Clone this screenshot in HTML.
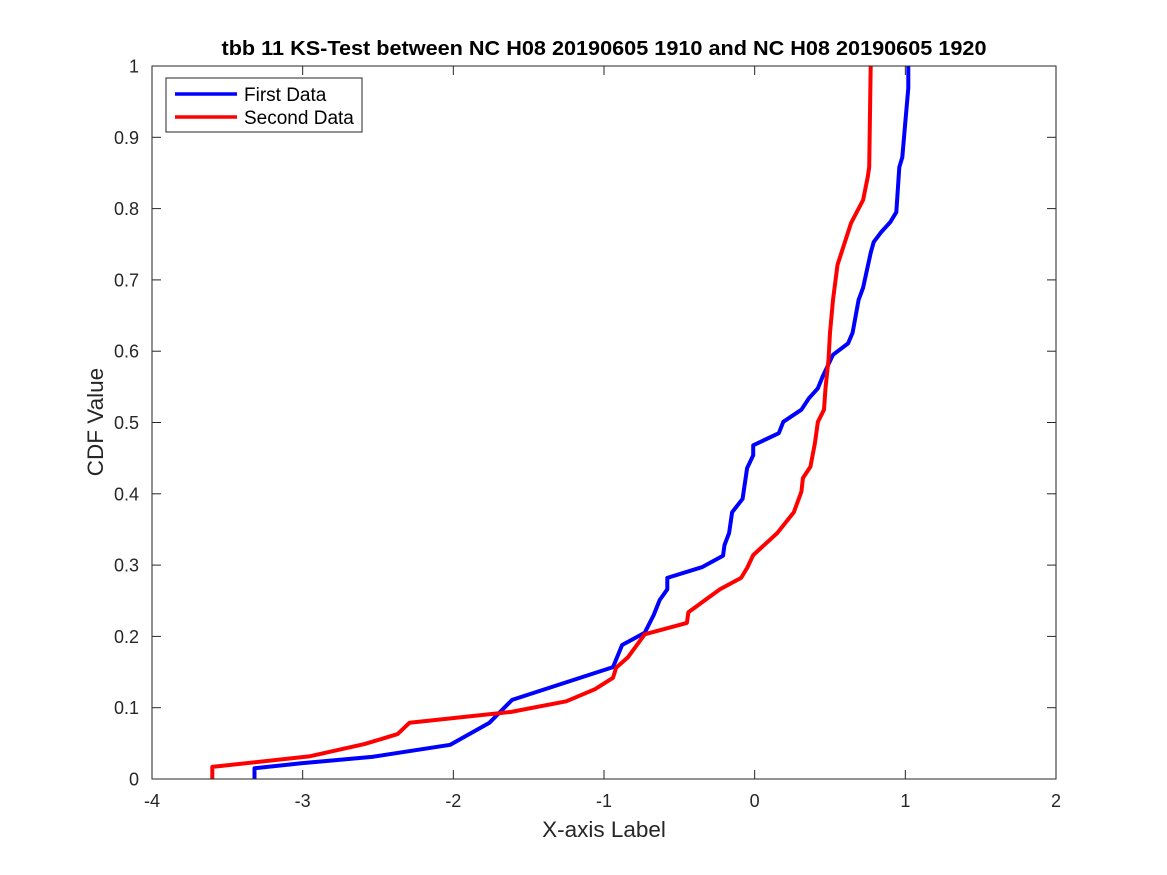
<!DOCTYPE html>
<html><head><meta charset="utf-8"><style>
body{margin:0;background:#fff;}
svg{display:block;font-family:"Liberation Sans",Arial,sans-serif;}
</style></head><body>
<svg id="chart" width="1167" height="875">
<rect x="0" y="0" width="1167" height="875" fill="#fff"/>
<rect x="152" y="66" width="904" height="713" fill="#fff"/>
<g id="ticks"></g>
<g id="series"></g>
<rect x="152" y="66" width="904" height="713" fill="none" stroke="#262626" stroke-width="1"/>
<text x="604" y="55" text-anchor="middle" font-size="20.5" font-weight="bold" fill="#000" textLength="765" lengthAdjust="spacingAndGlyphs">tbb 11 KS-Test between NC H08 20190605 1910 and NC H08 20190605 1920</text>
<text x="604" y="837" text-anchor="middle" font-size="22.5" fill="#262626">X-axis Label</text>
<text transform="translate(103,422) rotate(-90)" text-anchor="middle" font-size="22.5" fill="#262626">CDF Value</text>
<g>
<rect x="166" y="78" width="196" height="54" fill="#fff" stroke="#262626" stroke-width="1"/>
<line x1="175" y1="94" x2="237" y2="94" stroke="#0000ff" stroke-width="3.5"/>
<text x="244" y="101" font-size="19" fill="#000">First Data</text>
<line x1="175" y1="117" x2="237" y2="117" stroke="#ff0000" stroke-width="3.5"/>
<text x="244" y="124" font-size="19" fill="#000">Second Data</text>
</g>
</svg>
<script>
const xTicks=[-4,-3,-2,-1,0,1,2];
const yTicks=[0,0.1,0.2,0.3,0.4,0.5,0.6,0.7,0.8,0.9,1];
const yTickLabels=['0','0.1','0.2','0.3','0.4','0.5','0.6','0.7','0.8','0.9','1'];
const firstX=[-3.32,-3.32,-3.01,-2.54,-2.02,-1.76,-1.61,-0.94,-0.88,-0.73,-0.67,-0.63,-0.58,-0.58,-0.35,-0.21,-0.20,-0.17,-0.15,-0.08,-0.05,-0.01,-0.01,0.16,0.19,0.31,0.36,0.42,0.45,0.52,0.62,0.65,0.69,0.72,0.77,0.79,0.84,0.90,0.94,0.96,0.98,1.00,1.02,1.02];
const firstY=[0,0.015,0.022,0.031,0.048,0.079,0.111,0.157,0.188,0.205,0.230,0.251,0.266,0.282,0.297,0.313,0.328,0.345,0.374,0.393,0.436,0.454,0.468,0.485,0.501,0.518,0.534,0.548,0.564,0.595,0.611,0.626,0.672,0.689,0.738,0.753,0.767,0.781,0.795,0.858,0.872,0.921,0.969,1.0];
const secondX=[-3.60,-3.60,-2.95,-2.59,-2.37,-2.29,-1.62,-1.25,-1.06,-0.94,-0.92,-0.84,-0.73,-0.45,-0.44,-0.23,-0.09,-0.05,-0.01,0.15,0.26,0.31,0.32,0.37,0.40,0.42,0.46,0.47,0.49,0.50,0.52,0.55,0.64,0.72,0.75,0.76,0.77];
const secondY=[0,0.017,0.032,0.049,0.063,0.079,0.094,0.109,0.126,0.142,0.156,0.171,0.203,0.219,0.234,0.266,0.282,0.296,0.314,0.345,0.374,0.403,0.422,0.438,0.471,0.501,0.518,0.548,0.588,0.626,0.672,0.721,0.780,0.812,0.844,0.858,1.0];
const NS='http://www.w3.org/2000/svg';
function sx(v){return 152+(v+4)/6*904;}
function sy(v){return 779-v*713;}
const tg=document.getElementById('ticks');
xTicks.forEach(t=>{
  const x=sx(t);
  const l1=document.createElementNS(NS,'line');
  l1.setAttribute('x1',x);l1.setAttribute('x2',x);l1.setAttribute('y1',779);l1.setAttribute('y2',770);
  l1.setAttribute('stroke','#262626');
  
  
  tg.appendChild(l1);
  const l2=document.createElementNS(NS,'line');
  l2.setAttribute('x1',x);l2.setAttribute('x2',x);l2.setAttribute('y1',66);l2.setAttribute('y2',75);
  l2.setAttribute('stroke','#262626');
  
  
  tg.appendChild(l2);
  const tx=document.createElementNS(NS,'text');
  tx.setAttribute('x',x);tx.setAttribute('y',807);tx.setAttribute('text-anchor','middle');
  tx.setAttribute('font-size','18');tx.setAttribute('fill','#262626');
  tx.textContent=String(t);
  
  
  tg.appendChild(tx);
});
yTicks.forEach((t,i)=>{
  const y=sy(t);
  const l1=document.createElementNS(NS,'line');
  l1.setAttribute('x1',152);l1.setAttribute('x2',161);l1.setAttribute('y1',y);l1.setAttribute('y2',y);
  l1.setAttribute('stroke','#262626');
  
  
  tg.appendChild(l1);
  const l2=document.createElementNS(NS,'line');
  l2.setAttribute('x1',1047);l2.setAttribute('x2',1056);l2.setAttribute('y1',y);l2.setAttribute('y2',y);
  l2.setAttribute('stroke','#262626');
  
  
  tg.appendChild(l2);
  const tx=document.createElementNS(NS,'text');
  tx.setAttribute('x',139);tx.setAttribute('y',y+6.5);tx.setAttribute('text-anchor','end');
  tx.setAttribute('font-size','18');tx.setAttribute('fill','#262626');
  tx.textContent=yTickLabels[i];
  
  
  tg.appendChild(tx);
});
const sg=document.getElementById('series');
function draw(xs,ys,color,name){
  const p=document.createElementNS(NS,'polyline');
  p.setAttribute('points',xs.map((x,i)=>sx(x).toFixed(1)+','+sy(ys[i]).toFixed(1)).join(' '));
  p.setAttribute('fill','none');p.setAttribute('stroke',color);p.setAttribute('stroke-width','4');
  p.setAttribute('stroke-linejoin','round');
  
  
  sg.appendChild(p);
}
draw(firstX,firstY,'#0000ff','first-data-line');
draw(secondX,secondY,'#ff0000','second-data-line');
</script>
</body></html>
